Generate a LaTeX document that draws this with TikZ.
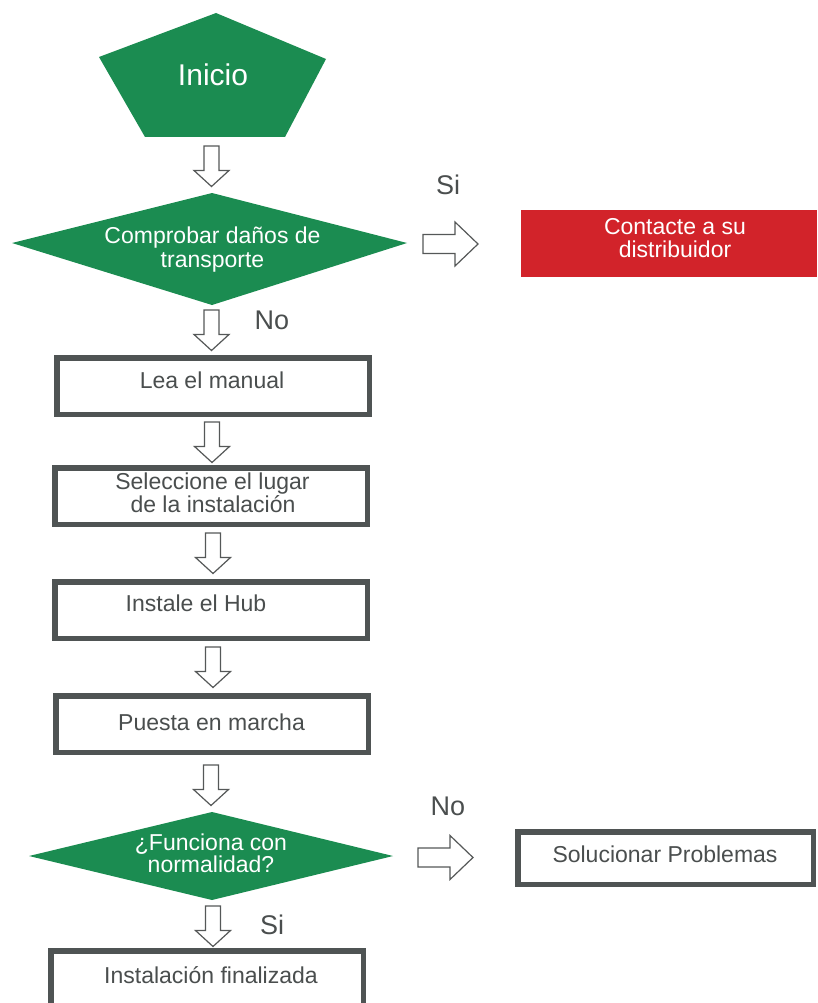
\documentclass[tikz,border=0pt]{standalone}
\usepackage{fontspec}
\setmainfont{Liberation Sans}
\definecolor{fgreen}{HTML}{1B8C51}
\definecolor{fred}{HTML}{D2232A}
\definecolor{fgray}{HTML}{4F5454}
\definecolor{tgray}{HTML}{4A4E4E}
\definecolor{agray}{HTML}{555858}
\begin{document}
\begin{tikzpicture}[x=1pt,y=-1pt,
  txt/.style={anchor=base, inner sep=0pt, font=\fontsize{23}{25}\selectfont, text=tgray},
  wtxt/.style={txt, text=white},
  lbl/.style={anchor=base, inner sep=0pt, font=\fontsize{27}{29}\selectfont, text=tgray},
  box/.style={draw=fgray, line width=5.5pt, fill=white, inner sep=0pt},
  blk/.style={draw=agray, line width=1.2pt, fill=white, line join=miter},
  darrow/.pic={\path[blk] (-7.5,0) -- (7.5,0) -- (7.5,24.5) -- (17.5,24.5) -- (0,40.5) -- (-17.5,24.5) -- (-7.5,24.5) -- cycle;},
  rarrow/.pic={\path[blk] (0,-9.5) -- (32,-9.5) -- (32,-22) -- (55,0) -- (32,22) -- (32,9.5) -- (0,9.5) -- cycle;}
]
\path[use as bounding box] (0,0) rectangle (817,1003);
\clip (0,0) rectangle (817,1003);

% start pentagon
\fill[fgreen] (216,13) -- (326,59) -- (285,137) -- (145,137) -- (99,57) -- cycle;
\node[wtxt, font=\fontsize{30}{32}\selectfont] (inicio) at (213,86) {Inicio};

% decision 1
\fill[fgreen] (212,193) -- (407,243) -- (212,305) -- (12,243) -- cycle;
\node[wtxt] (d1a) at (212.5,243) {Comprobar daños de};
\node[wtxt] (d1b) at (212.5,267) {transporte};

% red box
\node[fill=fred, minimum width=296pt, minimum height=67pt, inner sep=0pt] (contact) at (669,243.5) {};
\node[wtxt] (c1) at (675,234) {Contacte a su};
\node[wtxt] (c2) at (675,257) {distribuidor};

% labels
\node[lbl] (si1) at (448,194) {Si};
\node[lbl] (no1) at (272,329) {No};
\node[lbl] (no2) at (448,815) {No};
\node[lbl] (si2) at (272,934) {Si};

% process boxes
\node[box, minimum width=312.5pt, minimum height=56.5pt] (lea) at (213,386) {};
\node[txt] at (212,388) {Lea el manual};

\node[box, minimum width=312.5pt, minimum height=56.5pt] (sel) at (211,496) {};
\node[txt] at (212.5,489) {Seleccione el lugar};
\node[txt] at (213,512) {de la instalación};

\node[box, minimum width=312.5pt, minimum height=56.5pt] (hub) at (211,610) {};
\node[txt] at (196,611) {Instale el Hub};

\node[box, minimum width=312.5pt, minimum height=56.5pt] (puesta) at (212,724) {};
\node[txt] at (211.5,730) {Puesta en marcha};

% decision 2
\fill[fgreen] (212,812) -- (393,856) -- (212,900) -- (29,856) -- cycle;
\node[wtxt] (d2a) at (211,850.5) {¿Funciona con};
\node[wtxt] (d2b) at (211,872.5) {normalidad?};

\node[box, minimum width=295.5pt, minimum height=52.5pt] (sol) at (665.5,858) {};
\node[txt] at (665,862) {Solucionar Problemas};

\node[box, minimum width=312.5pt, minimum height=69pt] (fin) at (207,985.5) {};
\node[txt] at (211,983) {Instalación finalizada};

% block arrows
\pic at (211.5,146) {darrow};
\pic at (211.5,310) {darrow};
\pic at (212,422) {darrow};
\pic at (213,533) {darrow};
\pic at (213,647) {darrow};
\pic at (211,765) {darrow};
\pic at (213,906) {darrow};
\pic at (423,244) {rarrow};
\pic at (418,857.5) {rarrow};
\end{tikzpicture}
\end{document}
